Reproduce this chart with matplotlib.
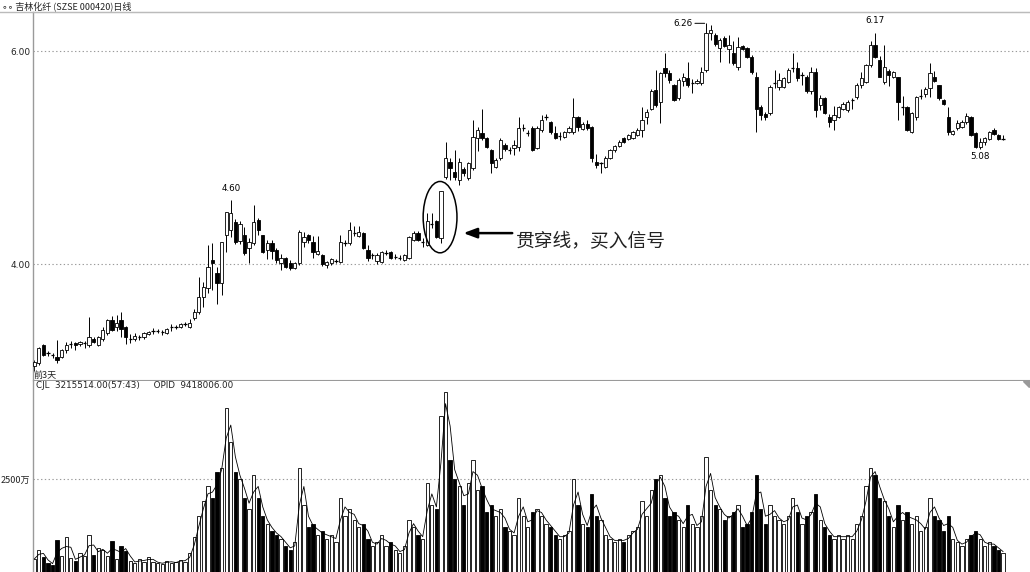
import matplotlib
matplotlib.use('Agg')
import matplotlib.pyplot as plt
from matplotlib.patches import Rectangle, Ellipse
import numpy as np
import pandas as pd

plt.rcParams['font.family'] = ['Noto Sans CJK SC', 'DejaVu Sans']

# ---------------- data ----------------
opens = [3.04, 3.07, 3.24, 3.17, 3.15, 3.13, 3.13, 3.19, 3.25, 3.26, 3.25, 3.26, 3.24, 3.30, 3.24, 3.30, 3.35, 3.47, 3.41, 3.47,
         3.41, 3.30, 3.30, 3.31, 3.31, 3.34, 3.37, 3.37, 3.36, 3.35, 3.41, 3.41, 3.41, 3.44, 3.41, 3.49, 3.55, 3.69, 3.77, 4.04,
         3.92, 3.82, 4.27, 4.32, 4.39, 4.22, 4.27, 4.15, 4.20, 4.41, 4.27, 4.13, 4.20, 4.13, 4.01, 4.06, 4.01, 3.96, 4.01, 4.21,
         4.27, 4.21, 4.09, 4.08, 3.99, 4.01, 4.03, 4.02, 4.20, 4.20, 4.29, 4.26, 4.29, 4.13, 4.08, 4.03, 4.02, 4.10, 4.11, 4.07,
         4.06, 4.04, 4.06, 4.23, 4.29, 4.21, 4.18, 4.38, 4.40, 4.24, 4.82, 4.96, 4.86, 4.79, 4.89, 4.81, 4.90, 5.18, 5.23, 5.18,
         5.07, 4.91, 5.00, 5.12, 5.07, 5.09, 5.10, 5.28, 5.23, 5.28, 5.09, 5.26, 5.38, 5.33, 5.23, 5.20, 5.19, 5.24, 5.24, 5.38,
         5.27, 5.31, 5.29, 4.96, 4.95, 4.91, 5.00, 5.07, 5.11, 5.18, 5.17, 5.18, 5.21, 5.26, 5.38, 5.46, 5.63, 5.52, 5.84, 5.79,
         5.68, 5.56, 5.72, 5.75, 5.70, 5.70, 5.70, 5.82, 6.17, 6.15, 6.03, 6.12, 6.02, 5.98, 5.85, 6.05, 6.03, 5.94, 5.76, 5.47,
         5.41, 5.42, 5.70, 5.66, 5.66, 5.71, 5.84, 5.84, 5.77, 5.76, 5.62, 5.80, 5.49, 5.56, 5.38, 5.35, 5.38, 5.46, 5.45, 5.54,
         5.57, 5.68, 5.71, 5.87, 6.06, 5.92, 5.71, 5.81, 5.76, 5.76, 5.47, 5.47, 5.24, 5.38, 5.58, 5.60, 5.65, 5.76, 5.68, 5.54,
         5.38, 5.22, 5.28, 5.29, 5.33, 5.38, 5.23, 5.10, 5.15, 5.17, 5.26, 5.21, 5.17]
highs = [3.10, 3.22, 3.25, 3.18, 3.16, 3.29, 3.20, 3.27, 3.28, 3.27, 3.28, 3.28, 3.50, 3.31, 3.32, 3.41, 3.48, 3.51, 3.52, 3.55,
         3.42, 3.34, 3.35, 3.33, 3.36, 3.37, 3.40, 3.39, 3.38, 3.40, 3.44, 3.43, 3.45, 3.46, 3.48, 3.58, 3.88, 3.83, 4.18, 4.20,
         3.97, 4.21, 4.49, 4.60, 4.42, 4.40, 4.35, 4.24, 4.55, 4.43, 4.27, 4.23, 4.23, 4.15, 4.09, 4.07, 4.04, 4.02, 4.32, 4.30,
         4.28, 4.26, 4.26, 4.09, 4.03, 4.06, 4.05, 4.27, 4.23, 4.39, 4.36, 4.36, 4.30, 4.18, 4.10, 4.10, 4.12, 4.13, 4.12, 4.09,
         4.08, 4.09, 4.26, 4.31, 4.31, 4.24, 4.48, 4.48, 4.41, 4.69, 5.15, 5.00, 5.07, 5.00, 4.91, 4.96, 5.35, 5.29, 5.46, 5.19,
         5.08, 5.00, 5.18, 5.14, 5.10, 5.16, 5.38, 5.31, 5.26, 5.30, 5.30, 5.40, 5.41, 5.34, 5.30, 5.24, 5.25, 5.30, 5.56, 5.39,
         5.33, 5.35, 5.30, 5.03, 4.96, 5.01, 5.08, 5.12, 5.16, 5.19, 5.22, 5.25, 5.28, 5.47, 5.46, 5.64, 5.82, 5.80, 5.98, 5.82,
         5.69, 5.75, 5.79, 5.90, 5.74, 5.74, 5.85, 6.26, 6.24, 6.17, 6.12, 6.14, 6.15, 6.09, 6.13, 6.06, 6.04, 5.96, 5.80, 5.49,
         5.43, 5.68, 5.82, 5.79, 5.76, 5.84, 5.98, 5.90, 5.80, 5.77, 5.85, 5.84, 5.59, 5.57, 5.41, 5.48, 5.48, 5.52, 5.54, 5.56,
         5.70, 5.80, 5.88, 6.09, 6.17, 5.95, 6.06, 5.83, 5.81, 5.76, 5.58, 5.48, 5.43, 5.58, 5.64, 5.66, 5.89, 5.81, 5.68, 5.55,
         5.47, 5.26, 5.35, 5.35, 5.42, 5.39, 5.24, 5.18, 5.19, 5.25, 5.28, 5.22, 5.21]
lows = [3.00, 3.05, 3.14, 3.14, 3.12, 3.07, 3.12, 3.16, 3.21, 3.19, 3.23, 3.21, 3.22, 3.26, 3.23, 3.28, 3.33, 3.37, 3.37, 3.31,
        3.25, 3.26, 3.28, 3.29, 3.30, 3.33, 3.34, 3.35, 3.33, 3.34, 3.37, 3.39, 3.40, 3.42, 3.40, 3.47, 3.53, 3.60, 3.73, 3.76,
        3.62, 3.71, 4.11, 4.25, 4.19, 4.19, 4.08, 4.01, 4.18, 4.27, 4.10, 4.05, 4.05, 4.01, 3.94, 3.96, 3.94, 3.95, 3.99, 4.16,
        4.20, 4.06, 4.08, 3.98, 3.96, 3.99, 4.01, 4.01, 4.17, 4.18, 4.26, 4.25, 4.14, 4.03, 4.05, 4.00, 4.01, 4.08, 4.05, 4.05,
        4.04, 4.03, 4.05, 4.22, 4.22, 4.16, 4.17, 4.34, 4.24, 4.20, 4.80, 4.79, 4.79, 4.74, 4.83, 4.79, 4.88, 5.06, 5.16, 5.09,
        4.85, 4.90, 4.98, 5.06, 5.03, 5.02, 5.06, 5.25, 5.20, 5.06, 5.08, 5.24, 5.35, 5.22, 5.17, 5.16, 5.18, 5.23, 5.22, 5.25,
        5.26, 5.26, 4.96, 4.90, 4.85, 4.90, 4.99, 5.05, 5.10, 5.14, 5.16, 5.17, 5.20, 5.19, 5.31, 5.45, 5.47, 5.32, 5.76, 5.70,
        5.53, 5.54, 5.67, 5.66, 5.61, 5.69, 5.68, 5.80, 6.10, 6.05, 5.90, 6.04, 5.89, 5.87, 5.82, 6.01, 5.93, 5.78, 5.24, 5.35,
        5.35, 5.40, 5.65, 5.63, 5.65, 5.70, 5.80, 5.72, 5.68, 5.61, 5.60, 5.38, 5.45, 5.41, 5.29, 5.26, 5.37, 5.45, 5.43, 5.46,
        5.55, 5.65, 5.70, 5.85, 5.93, 5.76, 5.69, 5.67, 5.75, 5.35, 5.40, 5.25, 5.23, 5.35, 5.55, 5.57, 5.57, 5.71, 5.54, 5.49,
        5.21, 5.21, 5.26, 5.28, 5.31, 5.20, 5.09, 5.08, 5.12, 5.16, 5.21, 5.16, 5.16]
closes = [3.08, 3.21, 3.15, 3.16, 3.14, 3.10, 3.19, 3.24, 3.25, 3.24, 3.27, 3.26, 3.31, 3.27, 3.31, 3.38, 3.47, 3.38, 3.45, 3.39,
          3.31, 3.30, 3.32, 3.31, 3.35, 3.36, 3.37, 3.37, 3.36, 3.39, 3.41, 3.41, 3.44, 3.44, 3.45, 3.55, 3.69, 3.78, 3.97, 4.01,
          3.82, 4.21, 4.49, 4.48, 4.21, 4.38, 4.10, 4.21, 4.39, 4.32, 4.11, 4.20, 4.12, 4.04, 4.06, 3.97, 3.96, 4.01, 4.30, 4.25,
          4.23, 4.11, 4.12, 4.00, 4.02, 4.05, 4.03, 4.21, 4.20, 4.32, 4.29, 4.30, 4.15, 4.06, 4.08, 4.08, 4.11, 4.10, 4.06, 4.07,
          4.06, 4.08, 4.25, 4.29, 4.23, 4.21, 4.40, 4.38, 4.25, 4.69, 5.00, 4.90, 4.82, 4.96, 4.85, 4.95, 5.19, 5.26, 5.18, 5.10,
          4.95, 4.98, 5.16, 5.08, 5.07, 5.12, 5.28, 5.28, 5.23, 5.07, 5.28, 5.35, 5.38, 5.24, 5.18, 5.20, 5.24, 5.28, 5.38, 5.29,
          5.31, 5.28, 5.00, 4.93, 4.95, 5.00, 5.07, 5.11, 5.15, 5.15, 5.21, 5.24, 5.26, 5.35, 5.43, 5.62, 5.49, 5.79, 5.79, 5.73,
          5.54, 5.73, 5.76, 5.68, 5.70, 5.72, 5.80, 6.17, 6.20, 6.07, 6.10, 6.05, 6.06, 5.89, 6.04, 6.02, 5.94, 5.80, 5.46, 5.40,
          5.38, 5.66, 5.70, 5.73, 5.75, 5.82, 5.84, 5.75, 5.77, 5.62, 5.80, 5.45, 5.56, 5.42, 5.33, 5.40, 5.47, 5.50, 5.52, 5.54,
          5.68, 5.75, 5.87, 6.06, 5.94, 5.76, 5.85, 5.77, 5.80, 5.52, 5.47, 5.26, 5.42, 5.57, 5.58, 5.64, 5.79, 5.72, 5.56, 5.50,
          5.24, 5.25, 5.32, 5.33, 5.39, 5.21, 5.10, 5.15, 5.18, 5.24, 5.22, 5.17, 5.17]
# volume, in 万 (10 thousand shares)
volumes = [350, 600, 400, 250, 200, 850, 420, 950, 380, 300, 500, 420, 1000, 450, 640, 580, 430, 820, 350, 700,
           560, 300, 240, 350, 270, 400, 280, 250, 220, 300, 250, 260, 330, 280, 500, 950, 1500, 1900, 2300, 2000,
           2700, 2800, 4400, 3500, 2700, 2500, 2000, 1700, 2600, 2000, 1500, 1300, 1100, 1000, 900, 700, 600, 800, 2800, 1800,
           1200, 1300, 1000, 1100, 900, 1000, 800, 2000, 1500, 1700, 1400, 1200, 1300, 900, 700, 800, 1000, 700, 800, 600,
           500, 700, 1400, 1200, 1000, 900, 2400, 1800, 1700, 4200, 4850, 3000, 2500, 2300, 1800, 2400, 3000, 2200, 2300, 1600,
           1800, 1500, 1700, 1200, 1100, 1000, 2000, 1500, 1200, 1600, 1700, 1500, 1300, 1200, 1000, 900, 1000, 1100, 2500, 1800,
           1300, 1200, 2100, 1500, 1400, 1000, 900, 800, 900, 800, 1000, 1100, 1200, 1900, 1500, 2200, 2500, 2600, 2000, 1500,
           1600, 1400, 1200, 1800, 1300, 1200, 1500, 3100, 2200, 1800, 1700, 1400, 1500, 1600, 1800, 1200, 1300, 1600, 2600, 1700,
           1300, 1800, 1500, 1400, 1300, 1500, 2000, 1600, 1300, 1500, 1600, 2100, 1400, 1200, 1000, 900, 1000, 900, 1000, 900,
           1300, 1500, 2300, 2800, 2600, 2000, 1900, 1500, 1200, 1800, 1400, 1600, 1300, 1500, 1100, 1200, 2000, 1500, 1400, 1100,
           1500, 900, 800, 700, 900, 1000, 1100, 900, 700, 800, 700, 600, 500]

price_ticks = [4.00, 6.00]
price_tick_labels = ['4.00', '6.00']
vol_ticks = [2500]
vol_tick_labels = ['2500万']

title_text = '∘∘ 吉林化纤 (SZSE 000420)日线'
vol_header = 'CJL  3215514.00(57:43)     OPID  9418006.00'
signal_text = '贯穿线，买入信号'

# ---------------- layout ----------------
W, H = 1030, 572
fig = plt.figure(figsize=(W / 100, H / 100), dpi=100)


def rect(x0, y0, x1, y1):
    return [x0 / W, 1 - y1 / H, (x1 - x0) / W, (y1 - y0) / H]


ax = fig.add_axes(rect(33, 12, 1030, 380))
axv = fig.add_axes(rect(33, 381, 1030, 572), sharex=ax)

n = len(closes)
x = np.arange(n)
o = np.array(opens); c = np.array(closes); h = np.array(highs); l = np.array(lows)
v = np.array(volumes, dtype=float)
up = c >= o
bw = 0.72

# candles
ax.vlines(x, l, h, color='black', lw=0.7, zorder=2)
for i in range(n):
    lo, hi = min(o[i], c[i]), max(o[i], c[i])
    if hi - lo < 0.012:
        ax.hlines((lo + hi) / 2, i - bw / 2, i + bw / 2, color='black', lw=0.9, zorder=3)
    else:
        ax.add_patch(Rectangle((i - bw / 2, lo), bw, hi - lo,
                               facecolor='white' if up[i] else 'black',
                               edgecolor='black', lw=0.6, zorder=3))

x_lo, x_hi = -0.28, 217.9
ax.set_xlim(x_lo, x_hi)
ax.set_ylim(6 - (380 - 51) / 106.5, 6 + (51 - 12) / 106.5)

# volume bars
for i in range(n):
    axv.add_patch(Rectangle((i - bw / 2, 0), bw, v[i],
                            facecolor='white' if up[i] else 'black',
                            edgecolor='black', lw=0.6, zorder=2))
ma = pd.Series(v).rolling(2, min_periods=1).mean().values
axv.plot(x, ma, color='black', lw=0.6, zorder=3)
axv.set_ylim(0, (572 - 381) * 2500 / 93)

grid_kw = dict(color='#9a9a9a', lw=0.8, linestyle=(0, (1.2, 2.2)), zorder=1)
for t in price_ticks:
    ax.axhline(t, **grid_kw)
for t in vol_ticks:
    axv.axhline(t, **grid_kw)

for a in (ax, axv):
    for s in a.spines.values():
        s.set_visible(False)
    a.spines['left'].set_visible(True)
    a.spines['left'].set_color('#9a9a9a')
    a.spines['left'].set_linewidth(1.0)
    a.tick_params(length=0, labelsize=6.5, pad=2, colors='#222222')
    a.set_xticks([])

ax.set_yticks(price_ticks)
ax.set_yticklabels(price_tick_labels, family=['DejaVu Sans'])
axv.set_yticks(vol_ticks)
axv.set_yticklabels(vol_tick_labels)
ax.spines['top'].set_visible(True)
ax.spines['top'].set_color('#bbbbbb')
ax.spines['bottom'].set_visible(True)
ax.spines['bottom'].set_color('#9a9a9a')

# header line across the whole width
fig.add_artist(plt.Line2D([0, 1], [1 - 12 / H, 1 - 12 / H], color='#bbbbbb', lw=1.0))
fig.text(2 / W, 1 - 6 / H, title_text, fontsize=6.5, va='center', ha='left', color='#222222')
fig.text(36 / W, 1 - 386 / H, vol_header, fontsize=6.3, va='center', ha='left', color='#222222',
         family=['DejaVu Sans'])
fig.text(33 / W, 1 - 375 / H, '前3天', fontsize=6.5, va='center', ha='left', color='#222222')

# small marker at top-right of volume panel
fig.add_artist(plt.Polygon([[1023 / W, 1 - 381 / H], [1029 / W, 1 - 381 / H], [1029 / W, 1 - 387 / H]],
                           closed=True, color='#999999'))

# extreme labels
i_hi1 = int(np.argmax(h[:80]))
ax.text(i_hi1, h[i_hi1] + 0.07, f'{h[i_hi1]:.2f}', fontsize=6.3, ha='center', va='bottom',
        family=['DejaVu Sans'])
i_max = int(np.argmax(h))
ax.annotate(f'{h[i_max]:.2f}', xy=(i_max - 0.3, h[i_max]), xytext=(-9, 0), textcoords='offset points',
            fontsize=6.3, ha='right', va='center', family=['DejaVu Sans'],
            arrowprops=dict(arrowstyle='-', lw=0.7, color='black', shrinkA=0, shrinkB=0))
i_hi2 = 170 + int(np.argmax(h[170:200]))
ax.text(i_hi2, h[i_hi2] + 0.07, f'{h[i_hi2]:.2f}', fontsize=6.3, ha='center', va='bottom',
        family=['DejaVu Sans'])
i_lo = 200 + int(np.argmin(l[200:]))
ax.text(i_lo, l[i_lo] - 0.03, f'{l[i_lo]:.2f}', fontsize=6.3, ha='center', va='top',
        family=['DejaVu Sans'])

# piercing line annotation
ax.add_patch(Ellipse((88.8, 4.44), 7.4, 0.67, fill=False, edgecolor='black', lw=1.1, zorder=4))
ax.annotate('', xy=(93.3, 4.29), xytext=(105.2, 4.29),
            arrowprops=dict(arrowstyle='-|>,head_length=0.8,head_width=0.3', lw=1.8, color='black'))
ax.text(105.3, 4.21, signal_text, fontsize=13.5, ha='left', va='center', color='#222222')

fig.savefig('out.png', dpi=100)
